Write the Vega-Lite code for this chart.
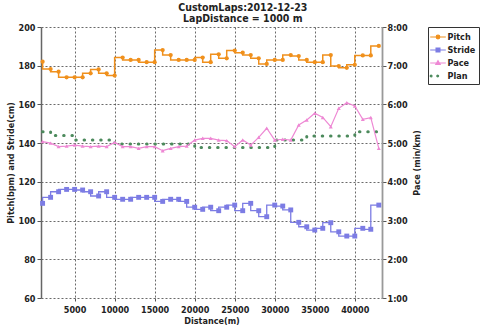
{
  "$schema": "https://vega.github.io/schema/vega-lite/v6.json",
  "width": 341,
  "height": 271,
  "autosize": "none",
  "padding": {"left": 41, "top": 27, "right": 98, "bottom": 31},
  "background": "white",
  "title": {
    "text": ["CustomLaps:2012-12-23", "LapDistance = 1000 m"],
    "fontSize": 10.5,
    "fontWeight": "bold",
    "color": "#222222",
    "lineHeight": 11,
    "offset": -1,
    "anchor": "middle",
    "frame": "bounds"
  },
  "config": {
    "font": "DejaVu Sans Condensed",
    "view": {"stroke": null},
    "axis": {
      "labelFont": "DejaVu Sans Condensed",
      "titleFont": "DejaVu Sans Condensed",
      "labelFontWeight": "bold",
      "labelFontSize": 9,
      "labelColor": "#222222",
      "labelOverlap": false,
      "titleFontWeight": "bold",
      "titleFontSize": 9,
      "titleColor": "#222222",
      "tickColor": "#555555",
      "domainColor": "#777777",
      "gridColor": "#444444",
      "gridDash": [2, 2],
      "gridOpacity": 1,
      "gridWidth": 0.8
    }
  },
  "data": {
    "values": [
      {"d": 1000, "pitch": 182.1, "stride": 108.9, "pace": 5.04, "plan": 5.295},
      {"d": 2000, "pitch": 178.3, "stride": 112.0, "pace": 5.0, "plan": 5.295},
      {"d": 3000, "pitch": 176.9, "stride": 114.9, "pace": 4.91, "plan": 5.195},
      {"d": 4000, "pitch": 174.0, "stride": 116.1, "pace": 4.925, "plan": 5.195},
      {"d": 5000, "pitch": 174.0, "stride": 116.1, "pace": 4.95, "plan": 5.195},
      {"d": 6000, "pitch": 174.0, "stride": 115.8, "pace": 4.925, "plan": 5.08},
      {"d": 7000, "pitch": 176.1, "stride": 114.9, "pace": 4.91, "plan": 5.08},
      {"d": 8000, "pitch": 178.1, "stride": 112.7, "pace": 4.925, "plan": 5.08},
      {"d": 9000, "pitch": 176.1, "stride": 114.9, "pace": 4.91, "plan": 5.08},
      {"d": 10000, "pitch": 174.9, "stride": 112.0, "pace": 5.02, "plan": 5.08},
      {"d": 11000, "pitch": 184.2, "stride": 111.0, "pace": 4.91, "plan": 4.98},
      {"d": 12000, "pitch": 183.0, "stride": 111.0, "pace": 4.91, "plan": 4.98},
      {"d": 13000, "pitch": 183.0, "stride": 112.0, "pace": 4.865, "plan": 4.98},
      {"d": 14000, "pitch": 181.8, "stride": 112.0, "pace": 4.91, "plan": 4.98},
      {"d": 15000, "pitch": 181.8, "stride": 112.0, "pace": 4.91, "plan": 4.98},
      {"d": 16000, "pitch": 188.1, "stride": 109.9, "pace": 4.805, "plan": 4.98},
      {"d": 17000, "pitch": 185.5, "stride": 111.0, "pace": 4.865, "plan": 4.98},
      {"d": 18000, "pitch": 183.0, "stride": 111.0, "pace": 4.91, "plan": 4.98},
      {"d": 19000, "pitch": 183.0, "stride": 109.9, "pace": 4.925, "plan": 4.98},
      {"d": 20000, "pitch": 183.0, "stride": 106.9, "pace": 5.08, "plan": 4.98},
      {"d": 21000, "pitch": 184.2, "stride": 105.8, "pace": 5.125, "plan": 4.885},
      {"d": 22000, "pitch": 181.8, "stride": 106.9, "pace": 5.125, "plan": 4.885},
      {"d": 23000, "pitch": 185.9, "stride": 105.1, "pace": 5.08, "plan": 4.885},
      {"d": 24000, "pitch": 183.8, "stride": 106.9, "pace": 5.065, "plan": 4.885},
      {"d": 25000, "pitch": 187.8, "stride": 108.0, "pace": 4.91, "plan": 4.885},
      {"d": 26000, "pitch": 186.7, "stride": 105.1, "pace": 5.08, "plan": 4.885},
      {"d": 27000, "pitch": 185.5, "stride": 108.9, "pace": 4.95, "plan": 4.885},
      {"d": 28000, "pitch": 183.8, "stride": 105.1, "pace": 5.15, "plan": 4.885},
      {"d": 29000, "pitch": 180.9, "stride": 102.0, "pace": 5.385, "plan": 4.885},
      {"d": 30000, "pitch": 183.0, "stride": 108.0, "pace": 5.08, "plan": 4.885},
      {"d": 31000, "pitch": 183.0, "stride": 107.5, "pace": 5.1, "plan": 5.08},
      {"d": 32000, "pitch": 185.5, "stride": 105.5, "pace": 5.08, "plan": 5.08},
      {"d": 33000, "pitch": 185.0, "stride": 99.1, "pace": 5.47, "plan": 5.08},
      {"d": 34000, "pitch": 183.0, "stride": 96.8, "pace": 5.6, "plan": 5.08},
      {"d": 35000, "pitch": 181.8, "stride": 95.1, "pace": 5.77, "plan": 5.185},
      {"d": 36000, "pitch": 181.8, "stride": 96.0, "pace": 5.665, "plan": 5.185},
      {"d": 37000, "pitch": 185.5, "stride": 98.9, "pace": 5.425, "plan": 5.185},
      {"d": 38000, "pitch": 179.8, "stride": 94.2, "pace": 5.9, "plan": 5.185},
      {"d": 39000, "pitch": 178.9, "stride": 92.0, "pace": 6.045, "plan": 5.185},
      {"d": 40000, "pitch": 180.5, "stride": 92.0, "pace": 5.96, "plan": 5.185},
      {"d": 41000, "pitch": 185.3, "stride": 96.0, "pace": 5.615, "plan": 5.295},
      {"d": 42000, "pitch": 185.3, "stride": 95.5, "pace": 5.66, "plan": 5.295},
      {"d": 43000, "pitch": 190.2, "stride": 108.0, "pace": 4.865, "plan": 5.295}
    ]
  },
  "layer": [
    {
      "layer": [
        {
          "mark": {"type": "line", "interpolate": "step-before", "strokeWidth": 1.5},
          "encoding": {
            "x": {"field": "d", "type": "quantitative", "scale": {"domain": [800, 43400], "nice": false, "zero": false},
              "axis": {"title": "Distance(m)", "values": [5000, 10000, 15000, 20000, 25000, 30000, 35000, 40000], "format": "d", "grid": true, "domain": false, "tickSize": 3, "labelPadding": 4, "titlePadding": 2}},
            "y": {"field": "pitch", "type": "quantitative", "scale": {"domain": [60, 200], "nice": false, "zero": false},
              "axis": {"title": "Pitch(bpm) and Stride(cm)", "values": [60, 80, 100, 120, 140, 160, 180, 200], "grid": true, "tickSize": 4, "labelPadding": 2, "titlePadding": 3, "domainWidth": 1.5, "domainColor": "#666666"}},
            "color": {
              "datum": "Pitch",
              "type": "nominal",
              "scale": {"domain": ["Pitch", "Stride", "Pace", "Plan"], "range": ["#F0901C", "#7C7CE4", "#EE88D4", "#4C8A5C"]},
              "legend": {
                "title": null,
                "orient": "right",
                "offset": 6,
                "strokeColor": "#333333",
                "padding": 3,
                "labelFont": "DejaVu Sans Condensed",
                "labelFontSize": 9,
                "labelFontWeight": "bold",
                "labelColor": "#222222",
                "symbolSize": 144,
                "symbolStrokeWidth": 1.2,
                "symbolOpacity": 1,
                "rowPadding": 1,
                "labelOffset": 2.5
              }
            }
          }
        },
        {
          "mark": {"type": "point", "shape": "circle", "filled": true, "size": 18, "opacity": 1},
          "encoding": {
            "x": {"field": "d", "type": "quantitative"},
            "y": {"field": "pitch", "type": "quantitative", "scale": {"domain": [60, 200], "nice": false, "zero": false},
              "axis": {"title": "Pitch(bpm) and Stride(cm)", "values": [60, 80, 100, 120, 140, 160, 180, 200], "grid": true, "tickSize": 4, "labelPadding": 2, "titlePadding": 3, "domainWidth": 1.5, "domainColor": "#666666"}},
            "color": {"datum": "Pitch", "type": "nominal"}
          }
        },
        {
          "mark": {"type": "line", "interpolate": "step-before", "strokeWidth": 1.3},
          "encoding": {
            "x": {"field": "d", "type": "quantitative"},
            "y": {"field": "stride", "type": "quantitative", "scale": {"domain": [60, 200], "nice": false, "zero": false},
              "axis": {"title": "Pitch(bpm) and Stride(cm)", "values": [60, 80, 100, 120, 140, 160, 180, 200], "grid": true, "tickSize": 4, "labelPadding": 2, "titlePadding": 3, "domainWidth": 1.5, "domainColor": "#666666"}},
            "color": {"datum": "Stride", "type": "nominal"}
          }
        },
        {
          "mark": {"type": "point", "shape": "square", "filled": true, "size": 24, "opacity": 1},
          "encoding": {
            "x": {"field": "d", "type": "quantitative"},
            "y": {"field": "stride", "type": "quantitative", "scale": {"domain": [60, 200], "nice": false, "zero": false},
              "axis": {"title": "Pitch(bpm) and Stride(cm)", "values": [60, 80, 100, 120, 140, 160, 180, 200], "grid": true, "tickSize": 4, "labelPadding": 2, "titlePadding": 3, "domainWidth": 1.5, "domainColor": "#666666"}},
            "color": {"datum": "Stride", "type": "nominal"}
          }
        },
        {
          "mark": {"type": "point", "opacity": 0},
          "encoding": {
            "x": {"field": "d", "type": "quantitative"},
            "y": {"field": "pitch", "type": "quantitative", "scale": {"domain": [60, 200], "nice": false, "zero": false},
              "axis": {"title": "Pitch(bpm) and Stride(cm)", "values": [60, 80, 100, 120, 140, 160, 180, 200], "grid": true, "tickSize": 4, "labelPadding": 2, "titlePadding": 3, "domainWidth": 1.5, "domainColor": "#666666"}},
            "color": {"datum": "Pitch", "type": "nominal"},
            "shape": {
              "datum": "Pitch",
              "type": "nominal",
              "scale": {
                "domain": ["Pitch", "Stride", "Pace", "Plan"],
                "range": [
                  "M-1.3,0H1.3M-0.3,0A0.3,0.3 0 1,0 0.3,0A0.3,0.3 0 1,0 -0.3,0Z",
                  "M-1.3,0H1.3M-0.32,-0.32H0.32V0.32H-0.32Z",
                  "M-1.3,0H1.3M0,-0.38L0.36,0.24H-0.36Z",
                  "M-1.3,0A0.15,0.15 0 1,0 -1.0,0A0.15,0.15 0 1,0 -1.3,0ZM-0.2,0A0.15,0.15 0 1,0 0.1,0A0.15,0.15 0 1,0 -0.2,0Z"
                ]
              },
              "legend": {"title": null}
            }
          }
        },
        {
          "mark": {"type": "point", "opacity": 0},
          "encoding": {
            "x": {"field": "d", "type": "quantitative"},
            "y": {"field": "stride", "type": "quantitative", "scale": {"domain": [60, 200], "nice": false, "zero": false},
              "axis": {"title": "Pitch(bpm) and Stride(cm)", "values": [60, 80, 100, 120, 140, 160, 180, 200], "grid": true, "tickSize": 4, "labelPadding": 2, "titlePadding": 3, "domainWidth": 1.5, "domainColor": "#666666"}},
            "color": {"datum": "Stride", "type": "nominal"},
            "shape": {"datum": "Stride", "type": "nominal"}
          }
        }
      ]
    },
    {
      "layer": [
        {
          "mark": {"type": "line", "interpolate": "step-before", "strokeWidth": 3, "strokeDash": [0.5, 7.8], "strokeCap": "round"},
          "encoding": {
            "x": {"field": "d", "type": "quantitative"},
            "y": {"field": "plan", "type": "quantitative", "scale": {"domain": [1, 8], "nice": false, "zero": false},
              "axis": {"orient": "right", "title": "Pace (min/km)", "titleAngle": 270, "values": [1, 2, 3, 4, 5, 6, 7, 8], "labelExpr": "floor(datum.value) + ':00'", "grid": false, "tickSize": 4, "labelPadding": 1, "titlePadding": 14, "domainWidth": 1.8, "domainColor": "#999999"}},
            "color": {"datum": "Plan", "type": "nominal"}
          }
        },
        {
          "mark": {"type": "line", "strokeWidth": 1.2},
          "encoding": {
            "x": {"field": "d", "type": "quantitative"},
            "y": {"field": "pace", "type": "quantitative", "scale": {"domain": [1, 8], "nice": false, "zero": false},
              "axis": {"orient": "right", "title": "Pace (min/km)", "titleAngle": 270, "values": [1, 2, 3, 4, 5, 6, 7, 8], "labelExpr": "floor(datum.value) + ':00'", "grid": false, "tickSize": 4, "labelPadding": 1, "titlePadding": 14, "domainWidth": 1.8, "domainColor": "#999999"}},
            "color": {"datum": "Pace", "type": "nominal"}
          }
        },
        {
          "mark": {"type": "point", "shape": "triangle-up", "filled": true, "size": 16, "opacity": 1},
          "encoding": {
            "x": {"field": "d", "type": "quantitative"},
            "y": {"field": "pace", "type": "quantitative", "scale": {"domain": [1, 8], "nice": false, "zero": false},
              "axis": {"orient": "right", "title": "Pace (min/km)", "titleAngle": 270, "values": [1, 2, 3, 4, 5, 6, 7, 8], "labelExpr": "floor(datum.value) + ':00'", "grid": false, "tickSize": 4, "labelPadding": 1, "titlePadding": 14, "domainWidth": 1.8, "domainColor": "#999999"}},
            "color": {"datum": "Pace", "type": "nominal"}
          }
        },
        {
          "mark": {"type": "point", "opacity": 0},
          "encoding": {
            "x": {"field": "d", "type": "quantitative"},
            "y": {"field": "pace", "type": "quantitative", "scale": {"domain": [1, 8], "nice": false, "zero": false},
              "axis": {"orient": "right", "title": "Pace (min/km)", "titleAngle": 270, "values": [1, 2, 3, 4, 5, 6, 7, 8], "labelExpr": "floor(datum.value) + ':00'", "grid": false, "tickSize": 4, "labelPadding": 1, "titlePadding": 14, "domainWidth": 1.8, "domainColor": "#999999"}},
            "color": {"datum": "Pace", "type": "nominal"},
            "shape": {"datum": "Pace", "type": "nominal"}
          }
        },
        {
          "mark": {"type": "point", "opacity": 0},
          "encoding": {
            "x": {"field": "d", "type": "quantitative"},
            "y": {"field": "plan", "type": "quantitative", "scale": {"domain": [1, 8], "nice": false, "zero": false},
              "axis": {"orient": "right", "title": "Pace (min/km)", "titleAngle": 270, "values": [1, 2, 3, 4, 5, 6, 7, 8], "labelExpr": "floor(datum.value) + ':00'", "grid": false, "tickSize": 4, "labelPadding": 1, "titlePadding": 14, "domainWidth": 1.8, "domainColor": "#999999"}},
            "color": {"datum": "Plan", "type": "nominal"},
            "shape": {"datum": "Plan", "type": "nominal"}
          }
        }
      ]
    }
  ],
  "resolve": {"scale": {"y": "independent"}}
}
